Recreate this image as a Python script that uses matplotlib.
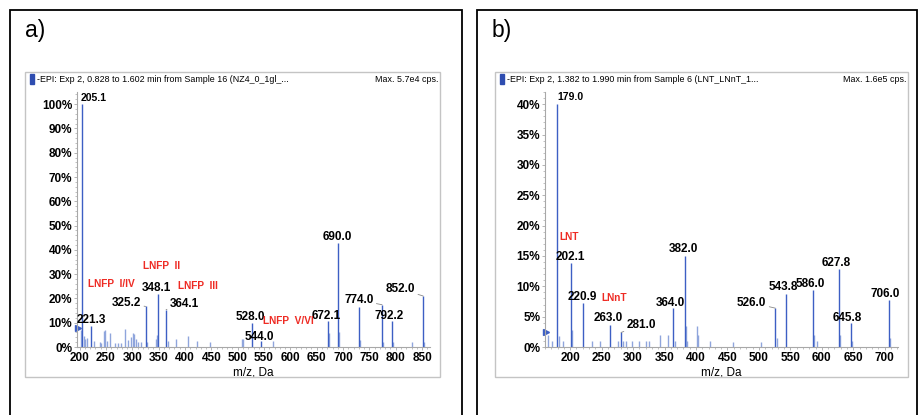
import matplotlib
matplotlib.use("Agg")
import matplotlib.pyplot as plt
from matplotlib import font_manager
from matplotlib.patches import Rectangle
from matplotlib.ticker import MultipleLocator, FuncFormatter

# ---------------- data ----------------
# Panel a
a_peak_mz = [205.1, 221.3, 325.2, 348.1, 364.1, 528.0, 544.0, 672.1, 690.0, 730.0, 774.0, 792.2, 852.0]
a_peak_int = [100, 8.5, 16.7, 22, 15.4, 10, 2.5, 10.6, 43, 16.5, 17.4, 10.6, 21]
a_minor_mz = [203, 208, 211, 214, 227, 238, 241, 246, 248, 251, 257, 268, 273, 278, 287, 291,
              297, 302, 304, 307, 311, 317, 328, 344, 346, 367, 382, 405, 423, 447, 508, 510,
              567, 674, 692, 733, 776, 794, 830, 854]
a_minor_int = [7.1, 4.4, 3.3, 3.6, 2.3, 1.9, 1.6, 6.4, 6.9, 2.3, 5.8, 1.6, 1.6, 1.6, 7.4, 3.0,
               4.1, 5.8, 5.5, 3.3, 2.0, 2.0, 2.0, 3.3, 5.0, 2.5, 3.3, 4.4, 2.3, 2.0, 3.3, 3.3,
               2.3, 5.8, 6.0, 3.0, 2.0, 2.0, 2.0, 2.0]
a_xticks = list(range(200, 851, 50))
a_yticks = list(range(0, 101, 10))
a_header = "-EPI: Exp 2, 0.828 to 1.602 min from Sample 16 (NZ4_0_1gl_..."
a_max = "Max. 5.7e4 cps."
a_labels = ["205.1", "221.3", "325.2", "348.1", "364.1", "528.0", "544.0",
            "672.1", "690.0", "774.0", "792.2", "852.0"]
a_names = ["LNFP  I/IV", "LNFP  II", "LNFP  III", "LNFP  V/VI"]

# Panel b
b_peak_mz = [179.0, 202.1, 220.9, 263.0, 281.0, 364.0, 382.0, 526.0, 543.8, 586.0, 627.8, 645.8, 706.0]
b_peak_int = [40, 13.8, 7.2, 3.6, 2.4, 6.4, 15, 6.4, 8.8, 9.4, 12.8, 3.9, 7.7]
b_minor_mz = [165, 171, 183, 188, 203, 234, 248, 276, 284, 289, 298, 310, 320, 326, 343, 355,
              366, 384, 386, 401, 403, 422, 459, 504, 528, 588, 592, 629, 648, 708]
b_minor_int = [1.9, 1.0, 1.8, 1.0, 2.8, 1.0, 1.0, 1.0, 1.0, 1.0, 1.0, 1.0, 1.0, 1.0, 2.0, 2.0,
               1.0, 3.5, 1.0, 3.5, 2.0, 1.0, 0.8, 0.8, 1.5, 2.0, 1.0, 2.0, 1.0, 1.5]
b_xticks = list(range(200, 701, 50))
b_yticks = list(range(0, 41, 5))
b_header = "-EPI: Exp 2, 1.382 to 1.990 min from Sample 6 (LNT_LNnT_1..."
b_max = "Max. 1.6e5 cps."
b_labels = ["179.0", "202.1", "220.9", "263.0", "281.0", "364.0", "382.0",
            "526.0", "543.8", "586.0", "627.8", "645.8", "706.0"]
b_names = ["LNT", "LNnT"]

xlabel = "m/z, Da"

# ---------------- style ----------------
avail = {f.name for f in font_manager.fontManager.ttflist}
SANS = "Liberation Sans" if "Liberation Sans" in avail else "DejaVu Sans"
plt.rcParams["font.family"] = [SANS, "DejaVu Sans"]

W, H = 922, 415
fig = plt.figure(figsize=(W / 100, H / 100), dpi=100)
BLUE = "#3D5FC4"
LIGHT = "#8FA5DC"
RED = "#EE2B24"
GRAY = "#A8A8A8"
TICK_FS = 8.5
LAB_FS = 8.5


def fx(px):
    return px / W


def fy(py):
    return 1 - py / H


def frame(x0, x1, y0, y1, color, lw):
    fig.patches.append(Rectangle((fx(x0), fy(y1)), fx(x1 - x0), (y1 - y0) / H,
                                 transform=fig.transFigure, fill=False,
                                 edgecolor=color, lw=lw, clip_on=False))


# outer boxes (extend below bottom edge)
frame(10, 462, 10, 430, "black", 1.3)
frame(477, 917, 10, 430, "black", 1.3)
# grey inner boxes
frame(25, 440, 72, 377, "#C4C4C4", 1.0)
frame(495, 908, 72, 377, "#C4C4C4", 1.0)

fig.text(fx(25), fy(31), "a)", fontsize=16.5, va="center", ha="left")
fig.text(fx(492), fy(31), "b)", fontsize=16.5, va="center", ha="left")

for bx, hdr, mx, rx in [(30, a_header, a_max, 438), (500, b_header, b_max, 906)]:
    fig.patches.append(Rectangle((fx(bx), fy(84)), fx(4), 10 / H, transform=fig.transFigure,
                                 color="#2E4DB0", clip_on=False))
    fig.text(fx(bx + 7), fy(79), hdr, fontsize=6.4, va="center", ha="left")
    fig.text(fx(rx), fy(79), mx, fontsize=6.4, va="center", ha="right")


def make_axes(l, r, top_px, bottom_px):
    return fig.add_axes([fx(l), fy(bottom_px), fx(r - l), (bottom_px - top_px) / H])


def style(ax, xlim, ylim, xticks, yticks, xminor, yminor):
    ax.set_xlim(*xlim)
    ax.set_ylim(*ylim)
    for s in ["top", "right"]:
        ax.spines[s].set_visible(False)
    for s in ["left", "bottom"]:
        ax.spines[s].set_color(GRAY)
        ax.spines[s].set_linewidth(0.8)
    ax.set_xticks(xticks)
    ax.set_yticks(yticks)
    ax.xaxis.set_minor_locator(MultipleLocator(xminor))
    ax.yaxis.set_minor_locator(MultipleLocator(yminor))
    ax.yaxis.set_major_formatter(FuncFormatter(lambda v, p: f"{v:.0f}%"))
    ax.tick_params(axis="both", which="major", length=2.5, width=0.6, color=GRAY,
                   labelsize=TICK_FS, pad=1)
    ax.tick_params(axis="both", which="minor", length=1.5, width=0.5, color=GRAY)
    for t in ax.get_xticklabels() + ax.get_yticklabels():
        t.set_fontweight("bold")
    ax.set_xlabel(xlabel, fontsize=8.5, labelpad=2)


def txt(ax, x, y, s, ha="center", fs=LAB_FS):
    ax.text(x, y, s, fontsize=fs, fontweight="bold", ha=ha, va="center")


def leader(ax, text, xy, xytext, ha, fs=LAB_FS):
    ax.annotate(text, xy=xy, xytext=xytext, ha=ha, va="center", fontsize=fs,
                fontweight="bold", arrowprops=dict(arrowstyle="-", color="#888888",
                                                   lw=0.6, shrinkA=0, shrinkB=0))


# ---------------- panel a ----------------
axa = make_axes(77, 430, 92, 347)
axa.vlines(a_minor_mz, 0, a_minor_int, color=LIGHT, lw=1.0)
axa.vlines(a_peak_mz, 0, a_peak_int, color=BLUE, lw=1.0)
style(axa, (195, 865), (0, 105), a_xticks, a_yticks, 10, 2)
axa.plot([196.5], [7.8], marker=">", ms=4, color=BLUE, clip_on=False)

txt(axa, 201, 102.5, a_labels[0], ha="left", fs=7.5)
txt(axa, 221.5, 11, a_labels[1])
leader(axa, a_labels[2], (a_peak_mz[2], a_peak_int[2]), (317, 18), "right")
txt(axa, 346, 24.3, a_labels[3])
leader(axa, a_labels[4], (a_peak_mz[4], a_peak_int[4]), (371, 17.7), "left")
txt(axa, 525, 12.3, a_labels[5])
txt(axa, 542, 4.2, a_labels[6])
txt(axa, 668.7, 12.8, a_labels[7])
txt(axa, 690, 45.5, a_labels[8])
leader(axa, a_labels[9], (a_peak_mz[10], a_peak_int[10]), (758, 19.3), "right")
txt(axa, 788, 12.8, a_labels[10])
leader(axa, a_labels[11], (a_peak_mz[12], a_peak_int[12]), (837, 23.9), "right")

for name, (x, y) in zip(a_names, [(260, 26), (355, 33.3), (424, 25), (596, 10.8)]):
    axa.text(x, y, name, color=RED, fontsize=7.3, fontweight="bold",
             ha="center", va="center")

# ---------------- panel b ----------------
axb = make_axes(545, 898, 92, 347)
axb.vlines(b_minor_mz, 0, b_minor_int, color=LIGHT, lw=1.0)
axb.vlines(b_peak_mz, 0, b_peak_int, color=BLUE, lw=1.0)
style(axb, (160, 721), (0, 42), b_xticks, b_yticks, 10, 1)
axb.plot([161.5], [2.5], marker=">", ms=4, color=BLUE, clip_on=False)

txt(axb, 179.5, 41.2, b_labels[0], ha="left", fs=7.5)
txt(axb, 200, 14.9, b_labels[1])
txt(axb, 219, 8.3, b_labels[2])
txt(axb, 260, 4.7, b_labels[3])
leader(axb, b_labels[4], (b_peak_mz[4], b_peak_int[4]), (289.7, 3.6), "left")
txt(axb, 358.5, 7.3, b_labels[5])
txt(axb, 380.6, 16.2, b_labels[6])
leader(axb, b_labels[7], (b_peak_mz[7], b_peak_int[7]), (512, 7.3), "right")
txt(axb, 538.5, 9.9, b_labels[8])
txt(axb, 581.5, 10.3, b_labels[9])
txt(axb, 622, 13.9, b_labels[10])
txt(axb, 641, 4.7, b_labels[11])
txt(axb, 700, 8.8, b_labels[12])

for name, (x, y) in zip(b_names, [(198, 18.2), (269.5, 8.0)]):
    axb.text(x, y, name, color=RED, fontsize=7.3, fontweight="bold",
             ha="center", va="center")

fig.savefig("out.png", dpi=100)
